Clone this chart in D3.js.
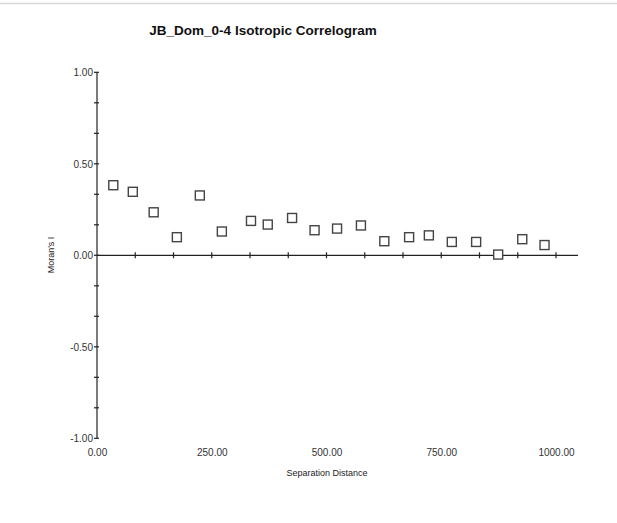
<!DOCTYPE html>
<html><head><meta charset="utf-8">
<script src="https://cdn.jsdelivr.net/npm/d3@7"></script>
<style>body{margin:0;background:#fff;}text{font-family:"Liberation Sans",Arial,sans-serif;}</style>
</head><body><svg id="c" width="617" height="523"></svg>
<script>
const distances = [35.5, 78, 123.5, 174, 224, 272, 335.5, 372, 425, 474, 523, 575, 626, 680, 723, 773, 826, 874, 926.5, 975];
const moransI = [0.383, 0.347, 0.235, 0.099, 0.327, 0.130, 0.188, 0.168, 0.204, 0.137, 0.146, 0.163, 0.077, 0.099, 0.109, 0.073, 0.073, 0.004, 0.088, 0.056];
const xTickLabels = [0, 250, 500, 750, 1000];
const yTickLabels = [-1, -0.5, 0, 0.5, 1];
const title = "JB_Dom_0-4  Isotropic Correlogram";
const xTitle = "Separation Distance";
const yTitle = "Moran's I";

const fmt = d => d3.format(".2f")(d).replace("\u2212", "-");
const svg = d3.select("#c");
const x = d3.scaleLinear().domain([0, 1000]).range([97, 556]);
const y = d3.scaleLinear().domain([-1, 1]).range([438.3, 72.3]);

svg.append("line").attr("x1",0).attr("x2",617).attr("y1",3.5).attr("y2",3.5).attr("stroke","#d8d8d8").attr("stroke-width",1.5);

svg.append("text").attr("x",263).attr("y",35).attr("text-anchor","middle")
  .attr("font-size",13.5).attr("font-weight","bold").attr("fill","#111").text(title);

// x axis at y=0
const xTicks = d3.range(0, 13).map(i => i * 1000 / 12);
const gx = svg.append("g").attr("transform",`translate(0,${y(0)})`);
gx.append("line").attr("x1",x(0)).attr("x2",578).attr("stroke","#222").attr("stroke-width",1.2);
gx.selectAll("line.t").data(xTicks.slice(1)).join("line").attr("class","t")
  .attr("x1",d=>x(d)).attr("x2",d=>x(d)).attr("y1",-3).attr("y2",3).attr("stroke","#222").attr("stroke-width",1.2);

// x labels
const xl = d3.axisBottom(x).tickValues(xTickLabels).tickSize(0).tickFormat(fmt);
const gxl = svg.append("g").attr("transform","translate(0,446)").call(xl);
gxl.select(".domain").remove();
gxl.selectAll("text").attr("font-size",10).attr("fill","#333").attr("font-family","Liberation Sans, Arial, sans-serif");

// y axis
const yTicks = d3.range(0, 13).map(i => -1 + i / 6);
const gy = svg.append("g");
gy.append("line").attr("x1",x(0)).attr("x2",x(0)).attr("y1",y(-1)).attr("y2",y(1)).attr("stroke","#222").attr("stroke-width",1.2);
gy.selectAll("line.t").data(yTicks).join("line").attr("class","t")
  .attr("x1",x(0)-3).attr("x2",x(0)+2).attr("y1",d=>y(d)).attr("y2",d=>y(d)).attr("stroke","#222").attr("stroke-width",1.2);
const yl = d3.axisLeft(y).tickValues(yTickLabels).tickSize(0).tickPadding(0).tickFormat(fmt);
const gyl = svg.append("g").attr("transform","translate(93,0)").call(yl);
gyl.select(".domain").remove();
gyl.selectAll("text").attr("font-size",10).attr("fill","#333").attr("font-family","Liberation Sans, Arial, sans-serif");

svg.append("text").attr("x",327).attr("y",476).attr("text-anchor","middle").attr("font-size",9).attr("fill","#222").text(xTitle);
svg.append("text").attr("transform","translate(54,255) rotate(-90)").attr("text-anchor","middle").attr("font-size",9).attr("fill","#222").text(yTitle);

// points
const pts = distances.map((d,i)=>({d, v: moransI[i]}));
svg.selectAll("rect.p").data(pts).join("rect").attr("class","p")
  .attr("x",p=>x(p.d)-4.5).attr("y",p=>y(p.v)-4.5).attr("width",9).attr("height",9)
  .attr("fill","#fff").attr("stroke","#444").attr("stroke-width",1.4);
</script></body></html>
